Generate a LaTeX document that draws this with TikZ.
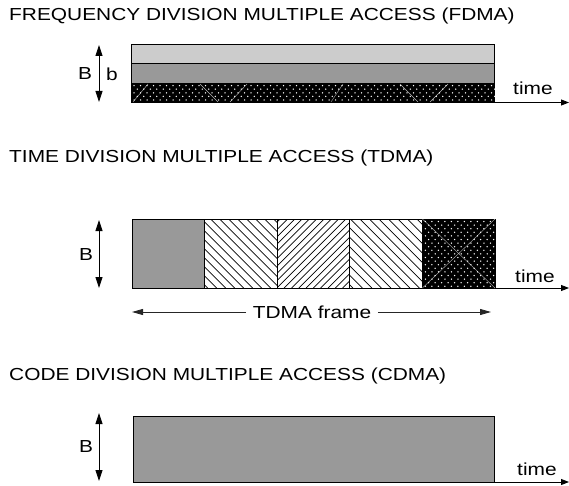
\documentclass[tikz,border=0pt]{standalone}
\usepackage{fontspec}
\setmainfont{Liberation Sans}[FakeStretch=1.2]
\usetikzlibrary{arrows.meta}

\definecolor{lightband}{HTML}{CCCCCC}
\definecolor{midband}{HTML}{999999}

\begin{document}
\begin{tikzpicture}[x=1pt, y=-1pt,
        title/.style={font=\fontsize{17.4}{20}\selectfont, anchor=base west, inner sep=0pt},
        lbl/.style={font=\fontsize{17.4}{20}\selectfont, inner sep=0pt},
        slot/.style={draw=black, line width=0.7pt, inner sep=0pt, outer sep=0pt, anchor=north west},
        hatch/.style={line width=0.7pt},
        speck/.style={fill=white},
        ghost/.style={draw=white, line width=0.4pt, opacity=0.7},
        axis/.style={-{Triangle[length=8pt, width=6pt]}, line width=0.9pt},
        span/.style={{Triangle[length=11pt, width=7pt]}-{Triangle[length=11pt, width=7pt]}, line width=0.9pt},
        frame/.style={-{Triangle[length=11pt, width=6pt]}, line width=0.8pt, draw=black!85}
    ]
    \useasboundingbox (0,0) rectangle (569,486);

    % FDMA
    \node[title] (fdmaTitle) at (9,21) {FREQUENCY DIVISION MULTIPLE ACCESS (FDMA)};
    \node[slot, fill=lightband, minimum width=363pt, minimum height=19.5pt] (fHigh) at (131.5,44) {};
    \node[slot, fill=midband, minimum width=363pt, minimum height=19.5pt] (fMid) at (fHigh.south west) {};
    \node[slot, fill=black, minimum width=363pt, minimum height=19.5pt] (fLow) at (fMid.south west) {};
    \foreach \r in {0,...,4}
      \foreach \c in {0,...,55}
        \fill[speck] ({131.5+2.5+\c*6.5+mod(\r,2)*3.25},{85.6+\r*3.6}) circle (0.75);
    \draw[ghost] (133,102) -- (148,84) (200,84) -- (218,102) (230,102) -- (247,84)
                 (331,102) -- (343,84) (400,84) -- (418,102) (430,102) -- (448,84);
    \coordinate (fTop) at (99,45);
    \coordinate (fBot) at (99,102);
    \draw[span] (fTop) -- (fBot);
    \node[lbl] (fB) at (85,74) {B};
    \node[lbl] (fb) at (112,74) {b};
    \coordinate (fEnd) at (fLow.south east -| 569,0);
    \draw[axis] (fLow.south east) -- (fEnd);
    \node[lbl, anchor=base west] (fTime) at (513,95) {time};

    % TDMA
    \node[title] (tdmaTitle) at (9,163) {TIME DIVISION MULTIPLE ACCESS (TDMA)};
    \node[slot, fill=midband, minimum width=72.6pt, minimum height=69pt] (tA) at (132,219) {};
    \node[slot, minimum width=72.6pt, minimum height=69pt] (tB) at (tA.north east) {};
    \node[slot, minimum width=72.6pt, minimum height=69pt] (tC) at (tB.north east) {};
    \node[slot, minimum width=72.6pt, minimum height=69pt] (tD) at (tC.north east) {};
    \node[slot, fill=black, minimum width=72.6pt, minimum height=69pt] (tE) at (tD.north east) {};
    \begin{scope}
      \clip (tB.north west) rectangle (tB.south east);
      \foreach \s in {-66,-57,...,72}
        \draw[hatch] ([xshift=\s pt]tB.north west) -- ++(69,69);
    \end{scope}
    \begin{scope}
      \clip (tC.north west) rectangle (tC.south east);
      \foreach \s in {-66,-58.7,...,73}
        \draw[hatch] ([xshift=\s pt]tC.south west) -- ++(69,-69);
    \end{scope}
    \begin{scope}
      \clip (tD.north west) rectangle (tD.south east);
      \foreach \s in {-66,-56.5,...,72}
        \draw[hatch] ([xshift=\s pt]tD.north west) -- ++(69,69);
    \end{scope}
    \foreach \r in {0,...,18}
      \foreach \c in {0,...,10}
        \fill[speck] ({422.4+3+\c*6.5+mod(\r,2)*3.25},{221.5+\r*3.6}) circle (0.75);
    \draw[ghost] (tE.north west) -- (tE.south east) (tE.south west) -- (tE.north east);
    \coordinate (tTop) at (99,220);
    \coordinate (tBot) at (99,288);
    \draw[span] (tTop) -- (tBot);
    \node[lbl] (tLbl) at (86,255) {B};
    \coordinate (tEnd) at (tE.south east -| 569,0);
    \draw[axis] (tE.south east) -- (tEnd);
    \node[lbl, anchor=base west] (tTime) at (515,282) {time};
    \node[lbl, inner xsep=6.5pt] (frameLbl) at (312,312) {TDMA frame};
    \coordinate (frL) at (132,312);
    \coordinate (frR) at (491,312);
    \draw[frame] (frameLbl.west) -- (frL);
    \draw[frame] (frameLbl.east) -- (frR);

    % CDMA
    \node[title] (cdmaTitle) at (9,380) {CODE DIVISION MULTIPLE ACCESS (CDMA)};
    \node[slot, fill=midband, minimum width=361pt, minimum height=66pt] (cBlock) at (133,416) {};
    \coordinate (cTop) at (99,413);
    \coordinate (cBot) at (99,481);
    \draw[span] (cTop) -- (cBot);
    \node[lbl] (cB) at (86,447) {B};
    \coordinate (cEnd) at (cBlock.south east -| 569,0);
    \draw[axis] (cBlock.south east) -- (cEnd);
    \node[lbl, anchor=base west] (cTime) at (517,475) {time};
\end{tikzpicture}
\end{document}
